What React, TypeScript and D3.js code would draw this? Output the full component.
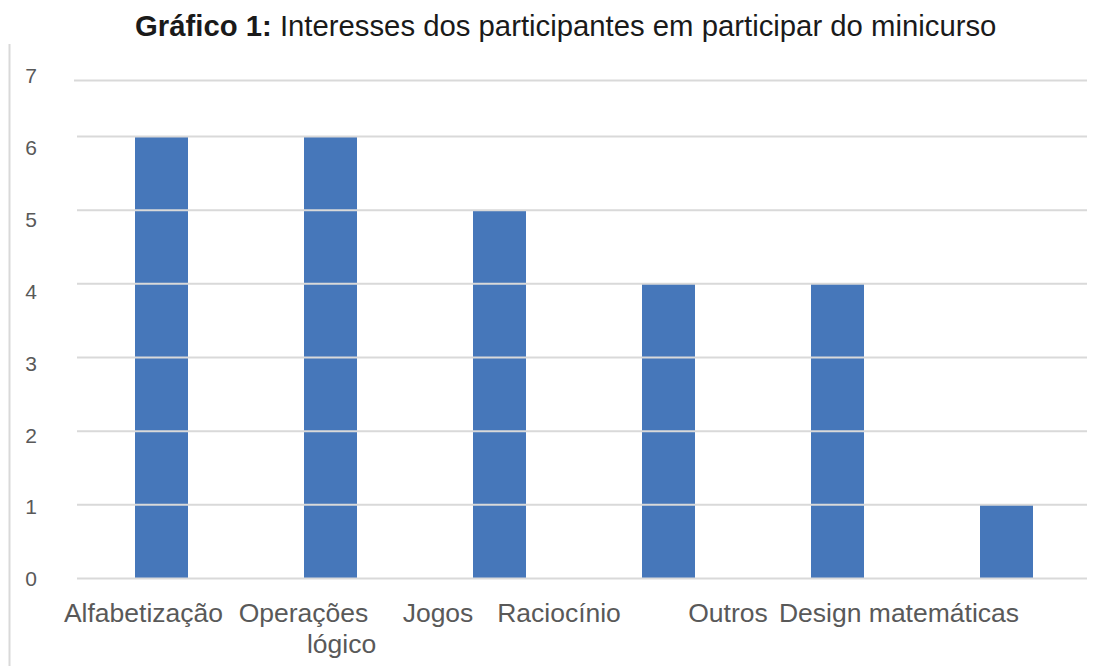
import React from "react";
import * as d3 from "d3";

const categories = ["Alfabetização", "Operações", "Jogos", "Raciocínio", "Outros", "Design"];
const values = [6, 6, 5, 4, 4, 1];
const yTicks = [0, 1, 2, 3, 4, 5, 6, 7];
const xLabelLines = [
  { text: "Alfabetização", line: 0 },
  { text: "Operações", line: 0 },
  { text: "lógico", line: 1 },
  { text: "Jogos", line: 0 },
  { text: "Raciocínio", line: 0 },
  { text: "Outros", line: 0 },
  { text: "Design matemáticas", line: 0 },
];
// layout: horizontal centres of the x-axis label pieces (as in the reference)
const xLabelPos = [143.5, 303.5, 341.5, 438, 559, 728, 899];

const W = 1101;
const H = 666;
const FONT = "'Liberation Sans', Arial, sans-serif";

export default function App() {
  const x = d3.scaleBand<string>().domain(categories).range([77, 1091]).padding(0);
  const barW = 53;
  // gridlines (reference has a compressed top interval)
  const yGrid = d3.scaleLinear().domain([0, 6, 7]).range([578.5, 136.5, 80.5]);
  const yBar = d3.scaleLinear().domain([0, 6]).range([578.5, 136.5]);
  const yLab = d3.scaleLinear().domain([0, 7]).range([579, 76]);

  return (
    <div style={{ position: "absolute", left: 0, top: 0 }}>
      <svg width={W} height={H} style={{ display: "block", background: "#fff" }}>
        <text x={135} y={36} textAnchor="start" fontFamily={FONT} fontSize={29.3} fill="#1a1a1a">
          <tspan fontWeight="bold">Gráfico 1:</tspan>
          <tspan> Interesses dos participantes em participar do minicurso</tspan>
        </text>
        <line x1={9.5} x2={9.5} y1={44} y2={H} stroke="#d9d9d9" strokeWidth={2} />
        {categories.map((c, i) => (
          <rect
            key={c}
            x={(x(c) as number) + (x.bandwidth() - barW) / 2}
            y={yBar(values[i])}
            width={barW}
            height={yBar(0) - yBar(values[i])}
            fill="#4677ba"
          />
        ))}
        {yTicks.map((t) => (
          <line
            key={"g" + t}
            x1={t === 7 ? 74 : 77}
            x2={1087}
            y1={yGrid(t)}
            y2={yGrid(t)}
            stroke="#d9d9d9"
            strokeWidth={2}
          />
        ))}
        {yTicks.map((t) => (
          <text
            key={"t" + t}
            x={31}
            y={yLab(t)}
            dy="0.35em"
            textAnchor="middle"
            fontFamily={FONT}
            fontSize={21}
            fill="#595959"
          >
            {t}
          </text>
        ))}
        {xLabelLines.map((l, i) => (
          <text
            key={"x" + i}
            x={xLabelPos[i]}
            y={622 + l.line * 31}
            textAnchor="middle"
            fontFamily={FONT}
            fontSize={26.5}
            fill="#595959"
          >
            {l.text}
          </text>
        ))}
      </svg>
    </div>
  );
}
